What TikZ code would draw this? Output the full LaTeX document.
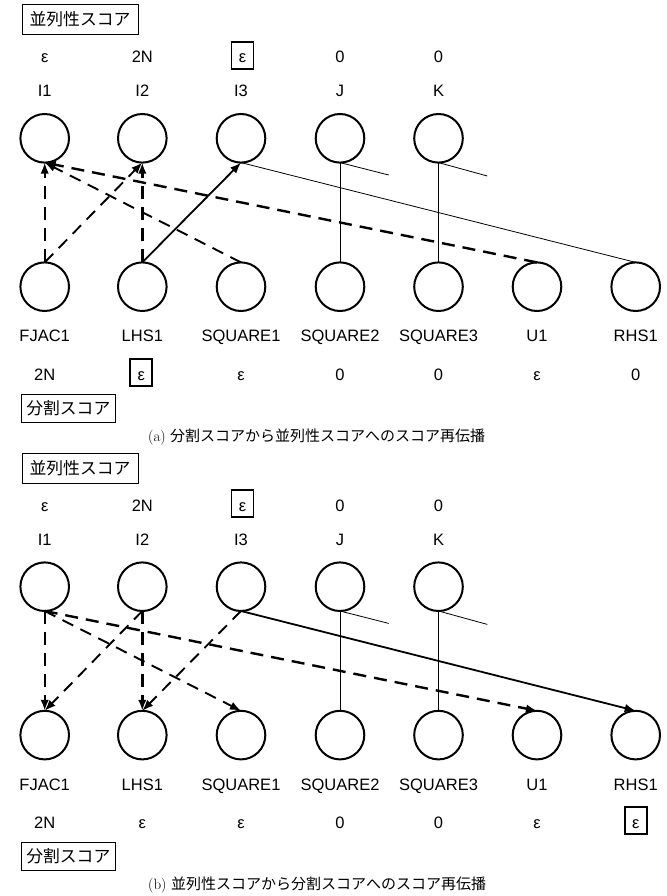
\documentclass[tikz,border=0pt]{standalone}
\usepackage{fontspec}
\newfontfamily\arialf{Liberation Sans}
\newfontfamily\jpf{Noto Sans CJK JP}
\usetikzlibrary{arrows.meta}
\tikzset{
  vtx/.style={circle, draw, line width=2pt, minimum size=48.6pt, inner sep=0pt, outer sep=0pt},
  lbl/.style={font=\arialf\fontsize{16.5}{18}\selectfont, anchor=base, inner sep=0pt},
  sbox/.style={lbl, draw, line width=1.9pt, minimum width=22pt, inner xsep=0pt, inner ysep=2pt, text height=19pt, text depth=4pt},
  tbox/.style={draw, line width=0.8pt, font=\jpf\fontsize{16.8}{20}\selectfont, inner sep=0pt, align=center},
  capt/.style={anchor=base west, inner sep=0pt, font=\fontsize{15}{18}\selectfont},
  thickdash/.style={line width=2.4pt, dash pattern=on 13pt off 8pt, -{Latex[length=11pt,width=8.5pt]}},
  meddash/.style={line width=1.9pt, dash pattern=on 12pt off 8pt, -{Latex[length=11pt,width=8.5pt]}},
  solidarr/.style={line width=1.8pt, -{Latex[length=11pt,width=8.5pt]}},
  thinline/.style={line width=0.8pt}
}
\begin{document}
\begin{tikzpicture}[x=1pt,y=-1pt]
\useasboundingbox (0,0) rectangle (666,896);
% ================= panel (a) =================
\node[tbox, minimum width=116pt, minimum height=30pt] (pa) at (80,19.5) {並列性スコア};
\node[lbl] (tsa1) at (44.7,63) {ε};
\node[lbl] (tsa2) at (142.3,63) {2N};
\node[sbox] (tsa3) at (242.5,63) {ε};
\node[lbl] (tsa4) at (340,63) {0};
\node[lbl] (tsa5) at (438.5,63) {0};
\node[lbl] (tla1) at (44.7,96.7) {I1};
\node[lbl] (tla2) at (142.3,96.7) {I2};
\node[lbl] (tla3) at (241,96.7) {I3};
\node[lbl] (tla4) at (340,96.7) {J};
\node[lbl] (tla5) at (438.5,96.7) {K};
\node[vtx] (ai1) at (44.7,138.3) {};
\node[vtx] (ai2) at (142.3,138.3) {};
\node[vtx] (ai3) at (241,138.3) {};
\node[vtx] (aj) at (340,138.3) {};
\node[vtx] (ak) at (438.5,138.3) {};
\node[vtx] (af) at (44.7,286.7) {};
\node[vtx] (al) at (142.3,286.7) {};
\node[vtx] (as1) at (241,286.7) {};
\node[vtx] (as2) at (340,286.7) {};
\node[vtx] (as3) at (438.5,286.7) {};
\node[vtx] (au) at (537,286.7) {};
\node[vtx] (ar) at (635.7,286.7) {};
\node[lbl] (bla1) at (44.7,341.7) {FJAC1};
\node[lbl] (bla2) at (142.3,341.7) {LHS1};
\node[lbl] (bla3) at (241,341.7) {SQUARE1};
\node[lbl] (bla4) at (340,341.7) {SQUARE2};
\node[lbl] (bla5) at (438.5,341.7) {SQUARE3};
\node[lbl] (bla6) at (537,341.7) {U1};
\node[lbl] (bla7) at (635.7,341.7) {RHS1};
\node[lbl] (bsa1) at (44.7,380) {2N};
\node[sbox] (bsa2) at (141.3,380) {ε};
\node[lbl] (bsa3) at (241,380) {ε};
\node[lbl] (bsa4) at (340,380) {0};
\node[lbl] (bsa5) at (438.5,380) {0};
\node[lbl] (bsa6) at (537,380) {ε};
\node[lbl] (bsa7) at (635.7,380) {0};
\node[tbox, minimum width=93.3pt, minimum height=28pt] (qa) at (68.3,408) {分割スコア};
\node[capt] (capa) at (148,441) {(a) {\jpf 分割スコアから並列性スコアへのスコア再伝播}};
% stubs and thin lines
\coordinate (ajs) at (388.7,175);
\coordinate (aks) at (487.3,176);
\draw[thinline] (aj.south) -- (ajs);
\draw[thinline] (ak.south) -- (aks);
\draw[thinline] (aj.south) -- (as2.north);
\draw[thinline] (ak.south) -- (as3.north);
\draw[thinline] (ai3.south) -- (ar.north);
% arrows
\draw[thickdash] (af.north) -- (ai1.south);
\draw[meddash] (af.north) -- (ai2.south);
\draw[thickdash] (al.north) -- (ai2.south);
\draw[solidarr] (al.north) -- (ai3.south);
\draw[meddash] (as1.north) -- (ai1.south);
\draw[thickdash] (au.north) -- (ai1.south);
% ================= panel (b) =================
\node[tbox, minimum width=116pt, minimum height=30pt] (pb) at (80,467.9) {並列性スコア};
\node[lbl] (tsb1) at (44.7,511.4) {ε};
\node[lbl] (tsb2) at (142.3,511.4) {2N};
\node[sbox] (tsb3) at (242.5,511.4) {ε};
\node[lbl] (tsb4) at (340,511.4) {0};
\node[lbl] (tsb5) at (438.5,511.4) {0};
\node[lbl] (tlb1) at (44.7,545.1) {I1};
\node[lbl] (tlb2) at (142.3,545.1) {I2};
\node[lbl] (tlb3) at (241,545.1) {I3};
\node[lbl] (tlb4) at (340,545.1) {J};
\node[lbl] (tlb5) at (438.5,545.1) {K};
\node[vtx] (bi1) at (44.7,586.7) {};
\node[vtx] (bi2) at (142.3,586.7) {};
\node[vtx] (bi3) at (241,586.7) {};
\node[vtx] (bj) at (340,586.7) {};
\node[vtx] (bk) at (438.5,586.7) {};
\node[vtx] (bf) at (44.7,735.1) {};
\node[vtx] (bl) at (142.3,735.1) {};
\node[vtx] (bs1) at (241,735.1) {};
\node[vtx] (bs2) at (340,735.1) {};
\node[vtx] (bs3) at (438.5,735.1) {};
\node[vtx] (bu) at (537,735.1) {};
\node[vtx] (br) at (635.7,735.1) {};
\node[lbl] (blb1) at (44.7,790.1) {FJAC1};
\node[lbl] (blb2) at (142.3,790.1) {LHS1};
\node[lbl] (blb3) at (241,790.1) {SQUARE1};
\node[lbl] (blb4) at (340,790.1) {SQUARE2};
\node[lbl] (blb5) at (438.5,790.1) {SQUARE3};
\node[lbl] (blb6) at (537,790.1) {U1};
\node[lbl] (blb7) at (635.7,790.1) {RHS1};
\node[lbl] (bsb1) at (44.7,828.4) {2N};
\node[lbl] (bsb2) at (142.3,828.4) {ε};
\node[lbl] (bsb3) at (241,828.4) {ε};
\node[lbl] (bsb4) at (340,828.4) {0};
\node[lbl] (bsb5) at (438.5,828.4) {0};
\node[lbl] (bsb6) at (537,828.4) {ε};
\node[sbox] (bsb7) at (635.7,828.4) {ε};
\node[tbox, minimum width=93.3pt, minimum height=28pt] (qb) at (68.3,856.4) {分割スコア};
\node[capt] (capb) at (148,889.4) {(b) {\jpf 並列性スコアから分割スコアへのスコア再伝播}};
% stubs and thin lines
\coordinate (bjs) at (388.7,623.4);
\coordinate (bks) at (487.3,624.4);
\draw[thinline] (bj.south) -- (bjs);
\draw[thinline] (bk.south) -- (bks);
\draw[thinline] (bj.south) -- (bs2.north);
\draw[thinline] (bk.south) -- (bs3.north);
% arrows
\draw[thickdash] (bi1.south) -- (bf.north);
\draw[meddash] (bi2.south) -- (bf.north);
\draw[thickdash] (bi2.south) -- (bl.north);
\draw[meddash] (bi3.south) -- (bl.north);
\draw[meddash] (bi1.south) -- (bs1.north);
\draw[thickdash] (bi1.south) -- (bu.north);
\draw[solidarr] (bi3.south) -- (br.north);
\end{tikzpicture}
\end{document}
